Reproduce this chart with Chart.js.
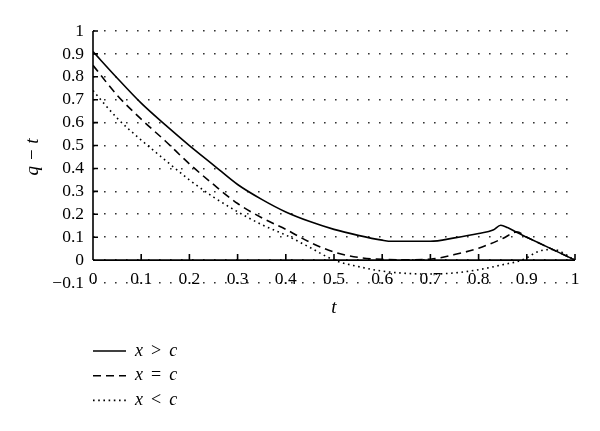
<!DOCTYPE html>
<html>
<head>
<meta charset="utf-8">
<script src="https://cdn.jsdelivr.net/npm/chart.js@4/dist/chart.umd.min.js"></script>
<style>
html,body{margin:0;padding:0;background:#fff;}
#wrap{width:600px;height:431px;position:relative;}
</style>
</head>
<body>
<div id="wrap"><canvas id="c" width="600" height="431"></canvas></div>
<script>
// ---- data ----
const seriesLabels = ["x > c", "x = c", "x < c"];

const tGreater = [0, 0.05, 0.1, 0.15, 0.2, 0.25, 0.3, 0.35, 0.4, 0.45, 0.5, 0.55, 0.6, 0.62, 0.7, 0.75, 0.8, 0.83, 0.846, 0.86, 0.88, 0.9, 0.95, 1];
const qGreater = [0.91, 0.795, 0.685, 0.59, 0.50, 0.415, 0.33, 0.265, 0.21, 0.168, 0.134, 0.108, 0.087, 0.082, 0.082, 0.097, 0.116, 0.131, 0.152, 0.142, 0.12, 0.1, 0.05, 0];

const tEqual = [0, 0.05, 0.1, 0.15, 0.2, 0.25, 0.3, 0.35, 0.4, 0.45, 0.5, 0.55, 0.6, 0.65, 0.7, 0.75, 0.8, 0.85, 0.879, 0.9, 0.95, 1];
const qEqual = [0.85, 0.72, 0.615, 0.52, 0.42, 0.33, 0.247, 0.185, 0.134, 0.078, 0.035, 0.012, 0.003, 0.001, 0.004, 0.024, 0.052, 0.094, 0.123, 0.1, 0.05, 0];

const tLess = [0, 0.05, 0.1, 0.15, 0.2, 0.25, 0.3, 0.35, 0.4, 0.45, 0.5, 0.55, 0.6, 0.65, 0.7, 0.75, 0.8, 0.85, 0.89, 0.93, 0.955, 1];
const qLess = [0.74, 0.62, 0.524, 0.436, 0.35, 0.275, 0.211, 0.155, 0.109, 0.055, 0.0, -0.028, -0.048, -0.058, -0.061, -0.056, -0.042, -0.02, 0, 0.042, 0.046, 0];

const xTickValues = [0, 0.1, 0.2, 0.3, 0.4, 0.5, 0.6, 0.7, 0.8, 0.9, 1];
const yTickValues = [-0.1, 0, 0.1, 0.2, 0.3, 0.4, 0.5, 0.6, 0.7, 0.8, 0.9, 1];
const xTitle = "t";
const yTitle = "q \u2212 t";

// ---- helpers ----
const pts = (ts, qs) => ts.map((t, i) => ({x: t, y: qs[i]}));
const fmt = v => String(Math.round(v * 10) / 10).replace('-', '\u2212');
const SERIF = "'Liberation Serif', 'Times New Roman', serif";

const axesPlugin = {
  id: 'axesPlugin',
  afterDatasetsDraw(chart) {
    const {ctx} = chart;
    const xs = chart.scales.x, ys = chart.scales.y;
    const y0 = ys.getPixelForValue(0);
    const yTop = ys.getPixelForValue(1);
    const x0 = xs.getPixelForValue(0), x1 = xs.getPixelForValue(1);
    ctx.save();
    ctx.strokeStyle = '#000';
    ctx.lineWidth = 1.6;
    ctx.beginPath();
    ctx.moveTo(x0, y0); ctx.lineTo(x1, y0);
    ctx.moveTo(x0, yTop); ctx.lineTo(x0, y0);
    xTickValues.forEach(v => {
      const px = xs.getPixelForValue(v);
      ctx.moveTo(px, y0); ctx.lineTo(px, y0 - 6);
    });
    yTickValues.filter(v => v >= 0).forEach(v => {
      const py = ys.getPixelForValue(v);
      ctx.moveTo(x0, py); ctx.lineTo(x0 + 5, py);
    });
    ctx.stroke();
    // x tick labels, sitting on the lowest grid row
    const yLab = ys.getPixelForValue(-0.1) - 4;
    ctx.fillStyle = '#000';
    ctx.font = '17.5px ' + SERIF;
    ctx.textAlign = 'center';
    ctx.textBaseline = 'middle';
    xTickValues.forEach(v => {
      ctx.fillText(fmt(v), xs.getPixelForValue(v), yLab);
    });
    ctx.restore();
  }
};

const legendPlugin = {
  id: 'legendPlugin',
  afterDraw(chart) {
    const {ctx} = chart;
    const left = chart.scales.x.getPixelForValue(0);
    ctx.save();
    chart.data.datasets.forEach((ds, i) => {
      const y = 351 + i * 24.7;
      ctx.strokeStyle = ds.borderColor;
      ctx.lineWidth = ds.borderWidth;
      ctx.setLineDash(ds.borderDash || []);
      ctx.beginPath();
      ctx.moveTo(left, y); ctx.lineTo(left + 33, y);
      ctx.stroke();
      ctx.setLineDash([]);
      const parts = ds.label.split(' ');
      let x = left + 42;
      ctx.fillStyle = '#000';
      ctx.textBaseline = 'middle';
      ctx.textAlign = 'left';
      parts.forEach((p, k) => {
        const italic = (k !== 1);
        ctx.font = (italic ? 'italic ' : '') + '18px ' + SERIF;
        ctx.fillText(p, x, y);
        x += ctx.measureText(p).width + 8;
      });
    });
    ctx.restore();
  }
};

function build() {
  new Chart(document.getElementById('c'), {
    type: 'line',
    data: {
      datasets: [
        {label: seriesLabels[0], data: pts(tGreater, qGreater), borderColor: '#000', borderWidth: 1.6, borderDash: [], pointRadius: 0, fill: false},
        {label: seriesLabels[1], data: pts(tEqual, qEqual), borderColor: '#000', borderWidth: 1.6, borderDash: [8, 5], pointRadius: 0, fill: false},
        {label: seriesLabels[2], data: pts(tLess, qLess), borderColor: '#000', borderWidth: 1.6, borderDash: [1.6, 3.6], pointRadius: 0, fill: false}
      ]
    },
    options: {
      responsive: false,
      animation: false,
      devicePixelRatio: 1,
      layout: {padding: {left: 0, top: 31, right: 25, bottom: 0}},
      elements: {line: {cubicInterpolationMode: 'monotone'}},
      plugins: {legend: {display: false}, tooltip: {enabled: false}},
      scales: {
        x: {
          type: 'linear', min: 0, max: 1,
          afterFit: s => { s.height = 148; },
          afterBuildTicks: s => { s.ticks = xTickValues.map(v => ({value: v})); },
          grid: {display: false, drawTicks: false},
          border: {display: false},
          ticks: {display: false},
          title: {display: true, text: xTitle, color: '#000', font: {family: SERIF, size: 19, style: 'italic'}, padding: {top: 0, bottom: 112}}
        },
        y: {
          type: 'linear', min: -0.1, max: 1,
          afterFit: s => { s.width = 93; },
          afterBuildTicks: s => { s.ticks = yTickValues.map(v => ({value: v})); },
          grid: {color: '#333', lineWidth: 1.6, drawTicks: false},
          border: {display: false, dash: [1.6, 9.4]},
          ticks: {padding: 9, color: '#000', font: {family: SERIF, size: 17.5}, callback: v => fmt(v), autoSkip: false},
          title: {display: true, text: yTitle, color: '#000', font: {family: SERIF, size: 19, style: 'italic'}, padding: {top: 22, bottom: 0}}
        }
      }
    },
    plugins: [axesPlugin, legendPlugin]
  });
}

const fontLoads = document.fonts && document.fonts.load
  ? Promise.all([
      document.fonts.load("17px 'Liberation Serif'"),
      document.fonts.load("italic 18px 'Liberation Serif'")
    ]).catch(() => {})
  : Promise.resolve();
fontLoads.then(build, build);
</script>
</body>
</html>
